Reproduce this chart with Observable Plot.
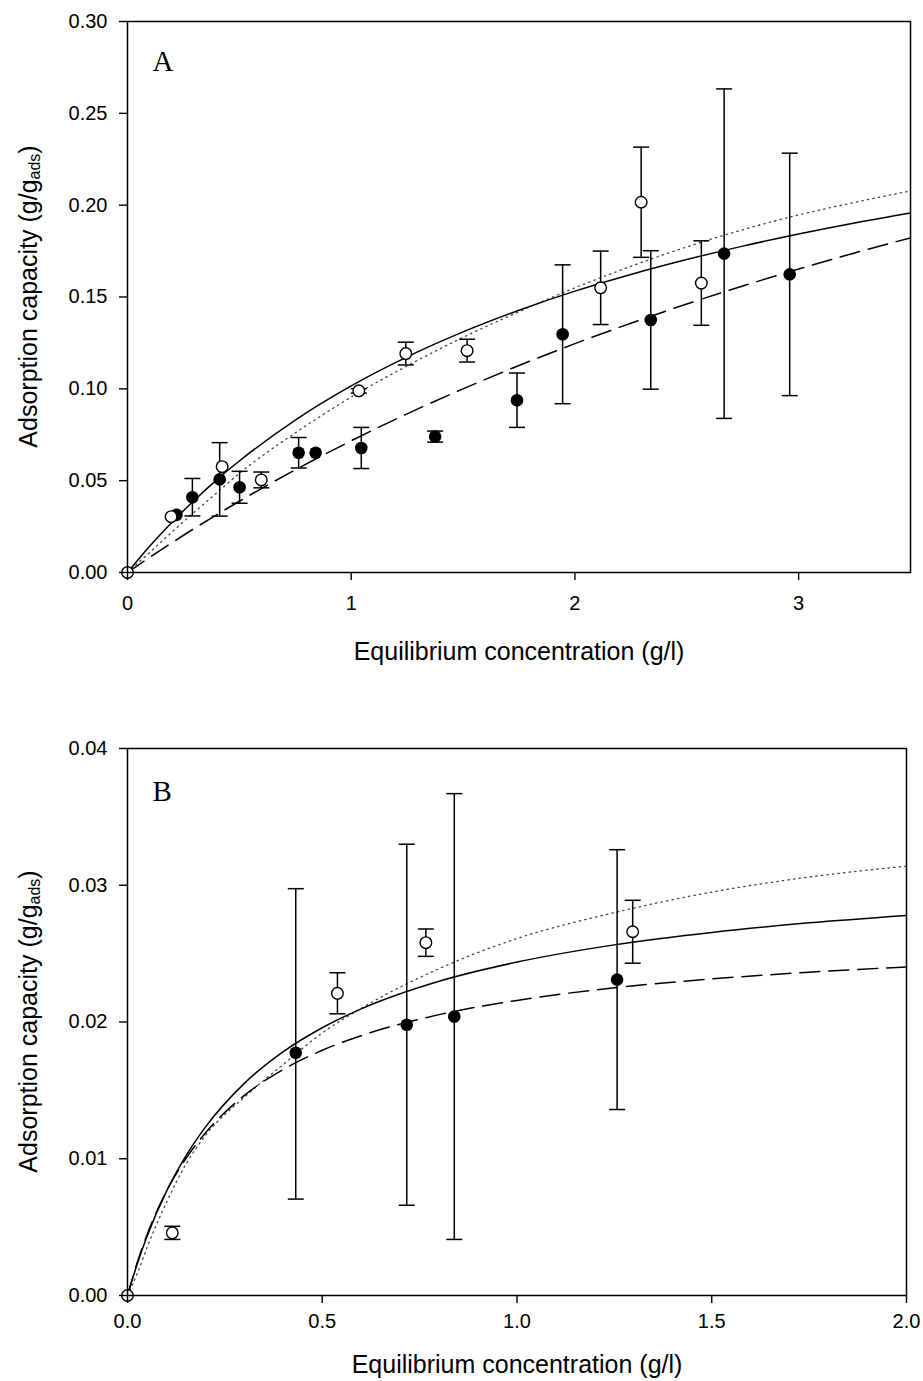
<!DOCTYPE html>
<html>
<head>
<meta charset="utf-8">
<script src="https://cdn.jsdelivr.net/npm/d3@7"></script>
<script src="https://cdn.jsdelivr.net/npm/@observablehq/plot@0.6"></script>
<style>
  html, body { margin: 0; padding: 0; background: #fff; }
  #chart { width: 923px; }
  #chart svg { display: block; }
</style>
</head>
<body>
<div id="chart"></div>
<script>
// ---------- Panel A data ----------
const xTicksA = [0, 1, 2, 3];
const yTicksA = [0, 0.05, 0.10, 0.15, 0.20, 0.25, 0.30];

const openA_x = [0, 0.195, 0.423, 0.598, 1.034, 1.244, 1.518, 2.115, 2.296, 2.565];
const openA_y = [0, 0.0304, 0.0576, 0.0504, 0.0989, 0.1192, 0.1208, 0.155, 0.2016, 0.1576];
const openA_lo = [0, 0, 0, 0.0043, 0.0012, 0.0062, 0.0062, 0.020, 0.030, 0.023];
const openA_hi = [0, 0, 0, 0.0043, 0.0012, 0.0062, 0.0062, 0.020, 0.030, 0.023];

const filledA_x = [0.219, 0.29, 0.412, 0.501, 0.765, 0.841, 1.045, 1.375, 1.741, 1.945, 2.339, 2.667, 2.96];
const filledA_y = [0.0314, 0.041, 0.0507, 0.0464, 0.0652, 0.0652, 0.0678, 0.0740, 0.0938, 0.1297, 0.1375, 0.1736, 0.1623];
const filledA_lo = [0, 0.0102, 0.020, 0.0087, 0.0083, 0, 0.0112, 0.003, 0.0148, 0.0378, 0.0377, 0.0897, 0.066];
const filledA_hi = [0, 0.0102, 0.020, 0.0087, 0.0083, 0, 0.0112, 0.003, 0.0148, 0.0378, 0.0377, 0.0897, 0.066];

const curveA_x = [0, 0.05, 0.1, 0.2, 0.3, 0.4, 0.5, 0.75, 1.0, 1.25, 1.5, 1.75, 2.0, 2.25, 2.5, 2.75, 3.0, 3.25, 3.5];
const solidA  = [0, 0.0074, 0.0144, 0.0275, 0.0395, 0.0506, 0.0607, 0.0830, 0.1016, 0.1174, 0.1310, 0.1428, 0.1532, 0.1623, 0.1704, 0.1777, 0.1843, 0.1903, 0.1957];
const dashedA = [0, 0.0042, 0.0083, 0.0163, 0.0241, 0.0315, 0.0388, 0.0559, 0.0717, 0.0864, 0.1000, 0.1127, 0.1246, 0.1357, 0.1462, 0.1560, 0.1652, 0.1740, 0.1822];
const dottedA = [0, 0.0055, 0.0110, 0.0222, 0.0330, 0.0435, 0.0540, 0.0760, 0.0955, 0.1125, 0.1280, 0.1420, 0.1550, 0.1667, 0.1773, 0.1866, 0.1947, 0.2015, 0.2078];

// ---------- Panel B data ----------
const xTicksB = [0, 0.5, 1.0, 1.5, 2.0];
const yTicksB = [0, 0.01, 0.02, 0.03, 0.04];

const openB_x = [0, 0.115, 0.539, 0.766, 1.297];
const openB_y = [0, 0.00458, 0.0221, 0.0258, 0.0266];
const openB_lo = [0, 0.00048, 0.0015, 0.001, 0.0023];
const openB_hi = [0, 0.00048, 0.0015, 0.001, 0.0023];

const filledB_x = [0.432, 0.717, 0.839, 1.257];
const filledB_y = [0.01775, 0.0198, 0.0204, 0.0231];
const filledB_lo = [0.0107, 0.0132, 0.0163, 0.0095];
const filledB_hi = [0.0120, 0.0132, 0.0163, 0.0095];

const curveB_x = [0, 0.025, 0.05, 0.1, 0.15, 0.2, 0.3, 0.4, 0.5, 0.6, 0.8, 1.0, 1.25, 1.5, 1.75, 2.0];
const solidB  = [0, 0.00231, 0.00431, 0.00761, 0.01021, 0.01231, 0.01551, 0.01783, 0.01958, 0.02096, 0.02298, 0.02438, 0.02564, 0.02655, 0.02725, 0.02779];
const dashedB = [0, 0.00241, 0.00443, 0.00762, 0.01002, 0.01189, 0.01463, 0.01653, 0.01793, 0.01900, 0.02054, 0.02158, 0.02250, 0.02315, 0.02364, 0.02403];
const dottedB = [0, 0.0016, 0.0035, 0.0068, 0.0096, 0.0117, 0.0145, 0.0169, 0.0192, 0.0210, 0.0239, 0.0261, 0.0280, 0.0295, 0.0306, 0.0314];

const xTitle = "Equilibrium concentration (g/l)";

// ---------- helpers ----------
const zipPts = (xs, ys, lo, hi) => xs.map((x, i) => ({x, y: ys[i], lo: lo[i], hi: hi[i]}));
const zipCurve = (xs, ys) => xs.map((x, i) => ({x, y: ys[i]}));
const capSymbol = { draw(ctx) { ctx.moveTo(-8, 0); ctx.lineTo(8, 0); } };
const sans = "'Liberation Sans', Arial, Helvetica, sans-serif";
const serif = "'Liberation Serif', 'Times New Roman', serif";

function panel(cfg) {
  const open = zipPts(cfg.openX, cfg.openY, cfg.openLo, cfg.openHi);
  const filled = zipPts(cfg.filledX, cfg.filledY, cfg.filledLo, cfg.filledHi);
  const withErr = open.concat(filled).filter(d => d.lo > 0 || d.hi > 0);
  const lineOpts = {x: "x", y: "y", curve: "monotone-x", stroke: "#000"};
  const svg = Plot.plot({
    width: 923,
    height: cfg.height,
    marginTop: cfg.mt, marginBottom: cfg.mb, marginLeft: 127, marginRight: cfg.mr,
    style: {fontFamily: sans, fontSize: "20px", color: "#000", background: "#fff", overflow: "visible"},
    x: {domain: cfg.xDomain},
    y: {domain: cfg.yDomain},
    marks: [
      Plot.line(zipCurve(cfg.curveX, cfg.dotted), {...lineOpts, stroke: "#444", strokeWidth: 1.3, strokeDasharray: "1.4,4.2"}),
      Plot.line(zipCurve(cfg.curveX, cfg.dashed), {...lineOpts, strokeWidth: 1.5, strokeDasharray: "20,9"}),
      Plot.line(zipCurve(cfg.curveX, cfg.solid), {...lineOpts, strokeWidth: 1.5}),
      Plot.ruleX(withErr, {x: "x", y1: d => d.y - d.lo, y2: d => d.y + d.hi, stroke: "#000", strokeWidth: 1.5}),
      Plot.dot(withErr, {x: "x", y: d => d.y + d.hi, symbol: capSymbol, stroke: "#000", fill: "none", strokeWidth: 1.5}),
      Plot.dot(withErr, {x: "x", y: d => d.y - d.lo, symbol: capSymbol, stroke: "#000", fill: "none", strokeWidth: 1.5}),
      Plot.dot(filled, {x: "x", y: "y", r: 6.3, fill: "#000", stroke: "none"}),
      Plot.dot(open, {x: "x", y: "y", r: 5.8, fill: "#fff", stroke: "#000", strokeWidth: 1.4}),
      Plot.frame({stroke: "#000", strokeWidth: 1.5}),
      Plot.axisX({ticks: cfg.xTicks, tickFormat: cfg.xFmt, tickSize: 8, tickPadding: cfg.xPad, label: null, strokeWidth: 1.4}),
      Plot.axisY({ticks: cfg.yTicks, tickFormat: cfg.yFmt, tickSize: 8, tickPadding: 12, label: null, strokeWidth: 1.4}),
      Plot.text([cfg.tag], {frameAnchor: "top-left", text: d => d, dx: 25, dy: cfg.tagDy, textAnchor: "start", lineAnchor: "top", fontFamily: serif, fontSize: 29}),
      Plot.text([xTitle], {frameAnchor: "bottom", text: d => d, dy: cfg.titleDy, lineAnchor: "middle", fontSize: 25})
    ]
  });
  // y-axis title with subscript
  const top = cfg.mt, bottom = cfg.height - cfg.mb;
  const t = d3.select(svg).append("text")
    .attr("transform", `translate(30,${(top + bottom) / 2}) rotate(-90)`)
    .attr("text-anchor", "middle")
    .attr("dominant-baseline", "middle")
    .attr("font-family", sans)
    .attr("font-size", 25)
    .attr("fill", "#000");
  t.append("tspan").text("Adsorption capacity (g/g");
  t.append("tspan").attr("font-size", 16).attr("dy", 6).text("ads");
  t.append("tspan").attr("dy", -6).text(")");
  return svg;
}

const chart = document.getElementById("chart");
chart.appendChild(panel({
  height: 690, mt: 21, mb: 118, mr: 13,
  xDomain: [0, 3.5], yDomain: [0, 0.30],
  xTicks: xTicksA, yTicks: yTicksA,
  xFmt: d3.format(".0f"), yFmt: d3.format(".2f"),
  openX: openA_x, openY: openA_y, openLo: openA_lo, openHi: openA_hi,
  filledX: filledA_x, filledY: filledA_y, filledLo: filledA_lo, filledHi: filledA_hi,
  curveX: curveA_x, solid: solidA, dashed: dashedA, dotted: dottedA,
  tag: "A", tagDy: 29, titleDy: 79, xPad: 15
}));
chart.appendChild(panel({
  height: 691, mt: 58, mb: 86, mr: 17,
  xDomain: [0, 2.0], yDomain: [0, 0.04],
  xTicks: xTicksB, yTicks: yTicksB,
  xFmt: d3.format(".1f"), yFmt: d3.format(".2f"),
  openX: openB_x, openY: openB_y, openLo: openB_lo, openHi: openB_hi,
  filledX: filledB_x, filledY: filledB_y, filledLo: filledB_lo, filledHi: filledB_hi,
  curveX: curveB_x, solid: solidB, dashed: dashedB, dotted: dottedB,
  tag: "B", tagDy: 32, titleDy: 69, xPad: 10
}));
</script>
</body>
</html>
